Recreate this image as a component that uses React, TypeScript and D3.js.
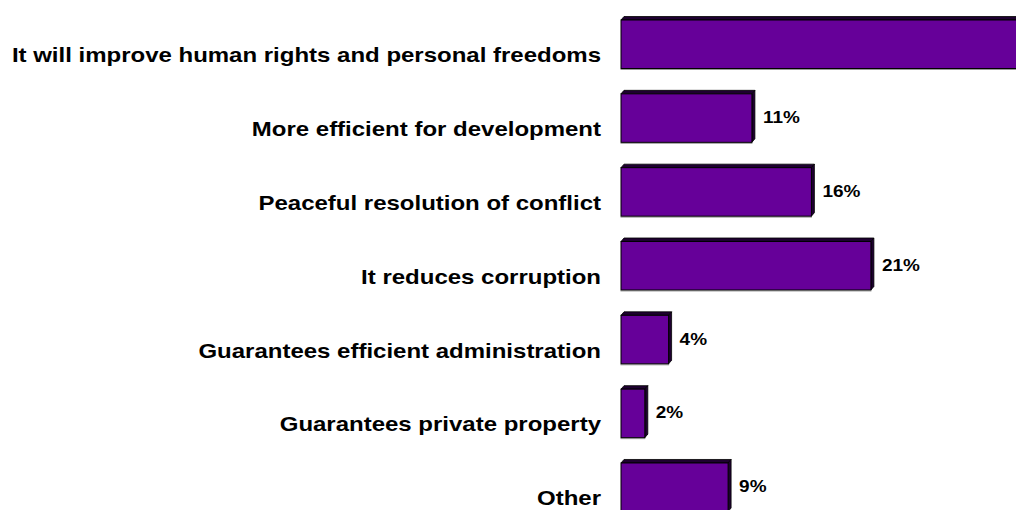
import React from "react";
import * as d3 from "d3";

const categories: string[] = [
  "It will improve human rights and personal freedoms",
  "More efficient for development",
  "Peaceful resolution of conflict",
  "It reduces corruption",
  "Guarantees efficient administration",
  "Guarantees private property",
  "Other",
];
const values: number[] = [37, 11, 16, 21, 4, 2, 9];
const valueLabels: string[] = values.map((v) => `${v}%`);

const W = 1016;
const H = 510;

export default function App() {
  const step = 73.83;
  const y0 = 7.34;
  const y = d3
    .scaleBand<string>()
    .domain(categories)
    .range([y0, y0 + step * categories.length])
    .paddingInner(0.343)
    .paddingOuter(0.1715);
  const x = d3.scaleLinear().domain([0, 10]).range([621, 621 + 119]);
  const bw = y.bandwidth();
  const dx = 3;
  const dy = 3.5;

  return (
    <svg
      width={W}
      height={H}
      style={{ position: "absolute", left: 0, top: 0, background: "#fff", overflow: "hidden" }}
      fontFamily="'Liberation Sans', Arial, sans-serif"
      fontWeight="bold"
    >
      {categories.map((c, i) => {
        const top = y(c)!;
        const x0 = x(0);
        const x1 = x(values[i]);
        const mid = top + bw / 2;
        const labelX = x1 + 11;
        return (
          <g key={c}>
            <line x1={x0 - 0.5} x2={x1 + 0.5} y1={top + bw + 1} y2={top + bw + 1} stroke="#9a9a9a" strokeWidth={1} />
            <polygon
              points={`${x0},${top} ${x0 + dx},${top - dy} ${x1 + dx},${top - dy} ${x1},${top}`}
              fill="#1e0030"
              stroke="#000"
              strokeWidth={0.8}
            />
            <polygon
              points={`${x1},${top} ${x1 + dx},${top - dy} ${x1 + dx},${top + bw - dy} ${x1},${top + bw}`}
              fill="#1e0030"
              stroke="#000"
              strokeWidth={0.8}
            />
            <rect x={x0} y={top} width={x1 - x0} height={bw} fill="#660099" stroke="#000" strokeWidth={1} />
            <g transform={`translate(601, ${mid + 18}) scale(1.2,1)`}>
              <text x={0} y={0} textAnchor="end" fontSize={20} fill="#000">
                {c}
              </text>
            </g>
            {labelX < W - 40 && (
              <g transform={`translate(${labelX}, ${mid + 5}) scale(1.15,1)`}>
                <text x={0} y={0} fontSize={16.5} fill="#000">
                  {valueLabels[i]}
                </text>
              </g>
            )}
          </g>
        );
      })}
    </svg>
  );
}
